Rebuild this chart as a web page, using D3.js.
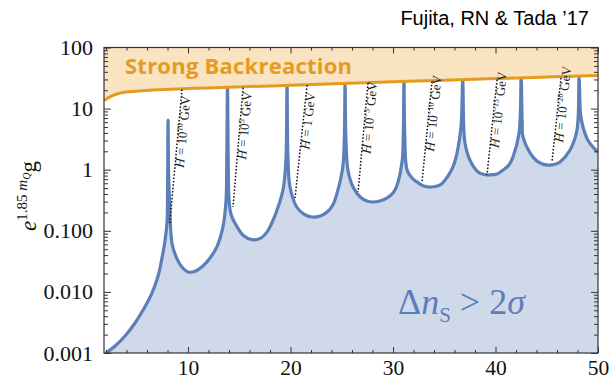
<!DOCTYPE html>
<html>
<head>
<meta charset="utf-8">
<script src="https://cdn.jsdelivr.net/npm/d3@7"></script>
<style>
  body { margin: 0; background: #fff; }
  svg { display: block; }
</style>
</head>
<body>
<div id="chart"></div>
<script>
// curve: m_Q vs e^{1.85 m_Q} g (lower edge of the excluded region)
var curveX = [2.0, 2.88, 3.85, 4.83, 5.8, 6.49, 7.07, 7.46, 7.76, 7.95, 8.0, 8.05,
  8.1, 8.2, 8.45, 8.95, 9.4, 10.0, 10.7, 11.5, 12.2, 12.8, 13.4, 13.7, 13.78, 13.85,
  13.92, 14.0, 14.2, 14.8, 15.4, 16.3, 17.1, 17.7, 18.3, 18.9, 19.3, 19.55, 19.66,
  19.75, 19.95, 20.6, 21.3, 22.1, 22.9, 23.6, 24.15, 24.55, 25.1, 25.25, 25.32,
  25.4, 25.6, 26.1, 26.8, 27.45, 28.05, 28.7, 29.4, 30.0, 30.4, 30.9, 31.0, 31.07,
  31.15, 31.37, 31.85, 32.35, 33.0, 33.8, 34.6, 35.3, 35.85, 36.25, 36.63, 36.8,
  36.9, 37.02, 37.5, 38.3, 38.9, 39.45, 40.15, 40.75, 41.3, 41.7, 42.3, 42.5,
  42.6, 42.68, 43.37, 44.15, 45.1, 45.9, 46.3, 47.27, 47.95, 48.15,
  48.3, 48.54, 49.0, 49.5, 50.0];
var curveY = [0.001, 0.0013, 0.0019, 0.0031, 0.0057, 0.0096, 0.018, 0.036, 0.07, 0.139, 0.4, 6.5,
  0.9, 0.3, 0.06, 0.034, 0.0255, 0.0212, 0.0218, 0.027, 0.037, 0.054, 0.115, 0.3, 1.5, 22,
  1.5, 0.32, 0.185, 0.115, 0.084, 0.071, 0.076, 0.095, 0.15, 0.28, 0.5, 1.44, 24,
  1.5, 0.52, 0.245, 0.188, 0.168, 0.175, 0.205, 0.27, 0.42, 1.11, 3.4, 26,
  3.4, 0.99, 0.52, 0.357, 0.307, 0.296, 0.307, 0.344, 0.416, 0.562, 1.44, 3.5, 28,
  3.5, 0.99, 0.731, 0.629, 0.541, 0.521, 0.562, 0.76, 1.11, 1.88, 5.0, 30,
  5.0, 2.74, 1.44, 0.917, 0.834, 0.82, 0.85, 0.99, 1.19, 1.61, 4.0, 32,
  6.0, 3.43, 1.88, 1.34, 1.19, 1.24, 1.34, 2.1, 4.47, 33,
  8.0, 5.0, 3.06, 2.35, 1.95];

// strong backreaction boundary
var brX = [1.8, 2.2, 2.7, 3.3, 4.2, 5.5, 7, 9, 12, 16, 20, 25, 30, 35, 40, 45, 50];
var brY = [13.5, 15, 16.5, 17.8, 18.8, 19.6, 20.3, 21, 21.8, 23, 24, 25.8, 27.5, 29.2, 31, 32.8, 34.8];

// constant-H lines: top end / bottom end
var hTopX = [9.41, 15.37, 21.61, 27.56, 33.8, 40.15, 46.39];
var hTopY = [20.6, 22, 24.3, 26.2, 27.8, 29.8, 31.8];
var hBotX = [8.22, 14.39, 20.44, 26.59, 32.83, 39.17, 45.51];
var hBotY = [0.135, 0.245, 0.344, 0.431, 0.629, 0.82, 1.34];
var hBase = ["10", "10", "1", "10", "10", "10", "10"];
var hExp = ["10", "5", "", "\u22125", "\u221210", "\u221215", "\u221220"];

var xTicks = [10, 20, 30, 40, 50];
var yTicks = [0.001, 0.01, 0.1, 1, 10, 100];
var yTickLabels = ["0.001", "0.010", "0.100", "1", "10", "100"];

var margin = {top: 47.5, right: 13, bottom: 27, left: 104},
    width = 611 - margin.left - margin.right,
    height = 380 - margin.top - margin.bottom;

var blue = "#5b7fb8", blueFill = "#cfd9ea", orange = "#e59b22", orangeFill = "#f9e3c0";
var serif = "'Liberation Serif', 'DejaVu Serif', serif";

var x = d3.scaleLinear().domain([1.8, 50]).range([0, width]);
var y = d3.scaleLog().domain([0.001, 100]).range([height, 0]);

var svg = d3.select("#chart").append("svg")
    .attr("width", 611)
    .attr("height", 380);

svg.append("text")
    .attr("x", 589).attr("y", 25)
    .attr("text-anchor", "end")
    .style("font-family", "'Liberation Sans', Arial, sans-serif")
    .style("font-size", "20px")
    .text("Fujita, RN & Tada \u201917");

var g = svg.append("g")
    .attr("transform", "translate(" + margin.left + "," + margin.top + ")");

g.append("clipPath").attr("id", "clip")
  .append("rect").attr("width", width).attr("height", height);

var plot = g.append("g").attr("clip-path", "url(#clip)");

var curve = curveX.map(function(d, i) { return [d, curveY[i]]; });
var br = brX.map(function(d, i) { return [d, brY[i]]; });
var smooth = d3.curveCatmullRom.alpha(0.5);

// excluded region below the curve
plot.append("path")
    .datum(curve)
    .attr("fill", blueFill)
    .attr("d", d3.area()
      .x(function(d) { return x(d[0]); })
      .y0(height)
      .y1(function(d) { return y(d[1]); })
      .curve(smooth));

plot.append("path")
    .datum(curve)
    .attr("fill", "none")
    .attr("stroke", blue)
    .attr("stroke-width", 3.2)
    .attr("stroke-linejoin", "round")
    .attr("d", d3.line()
      .x(function(d) { return x(d[0]); })
      .y(function(d) { return y(d[1]); })
      .curve(smooth));

// strong backreaction band
plot.append("path")
    .datum(br)
    .attr("fill", orangeFill)
    .attr("d", d3.area()
      .x(function(d) { return x(d[0]); })
      .y0(0)
      .y1(function(d) { return y(d[1]); })
      .curve(d3.curveMonotoneX));

plot.append("path")
    .datum(br)
    .attr("fill", "none")
    .attr("stroke", orange)
    .attr("stroke-width", 3)
    .attr("d", d3.line()
      .x(function(d) { return x(d[0]); })
      .y(function(d) { return y(d[1]); })
      .curve(d3.curveMonotoneX));

plot.append("text")
    .attr("x", 21).attr("y", 26)
    .attr("fill", orange)
    .attr("textLength", 227)
    .style("font-family", "'Open Sans', Lato, sans-serif")
    .style("font-weight", "bold")
    .style("font-size", "22px")
    .text("Strong Backreaction");

// constant H lines + labels
hTopX.forEach(function(d, i) {
  var x1 = x(d), y1 = y(hTopY[i]), x2 = x(hBotX[i]), y2 = y(hBotY[i]);
  plot.append("line")
      .attr("x1", x1).attr("y1", y1).attr("x2", x2).attr("y2", y2)
      .attr("stroke", "#111")
      .attr("stroke-width", 1.5)
      .attr("stroke-dasharray", "1.6,1.8");

  var ang = Math.atan2(y2 - y1, x2 - x1) * 180 / Math.PI + 180;
  var t = plot.append("text")
      .attr("transform", "translate(" + (x1 + (x2 - x1) * 0.32 + 9) + "," + (y1 + (y2 - y1) * 0.32) + ") rotate(" + ang + ")")
      .attr("text-anchor", "middle")
      .style("font-family", serif)
      .style("font-size", "13px")
      .attr("fill", "#222");
  t.append("tspan").style("font-style", "italic").text("H");
  t.append("tspan").text(" = " + hBase[i]);
  if (hExp[i] != "") {
    t.append("tspan").attr("dy", -5).style("font-size", "8px").text(hExp[i]);
    t.append("tspan").attr("dy", 5).text(" GeV");
  } else {
    t.append("tspan").text(" GeV");
  }
});

// Delta n_s > 2 sigma
var dn = plot.append("text")
    .attr("x", 294)
    .attr("y", 266)
    .attr("fill", blue)
    .style("font-family", serif)
    .style("font-size", "36px");
dn.append("tspan").text("\u0394");
dn.append("tspan").style("font-style", "italic").text("n");
dn.append("tspan").attr("dy", 8).style("font-size", "21px").text("S");
dn.append("tspan").attr("dy", -8).text(" > 2");
dn.append("tspan").style("font-style", "italic").text("\u03c3");

// frame
g.append("rect")
    .attr("width", width).attr("height", height)
    .attr("fill", "none")
    .attr("stroke", "#333")
    .attr("stroke-width", 1.2);

function tickStyle(sel) {
  sel.select(".domain").remove();
  sel.selectAll(".tick line").attr("stroke", "#333").attr("stroke-width", 1);
}

var xMinor = d3.range(2, 51, 2).filter(function(d) { return d % 10 != 0; });

g.append("g")
    .attr("transform", "translate(0," + height + ")")
    .call(d3.axisBottom(x).tickValues(xTicks).tickSize(-6).tickPadding(7))
    .call(tickStyle)
    .selectAll("text")
    .style("font-family", serif).style("font-size", "21.5px").attr("fill", "#111");
g.append("g")
    .attr("transform", "translate(0," + height + ")")
    .call(d3.axisBottom(x).tickValues(xMinor).tickSize(-3).tickFormat(""))
    .call(tickStyle);
g.append("g")
    .call(d3.axisTop(x).tickValues(xTicks).tickSize(-6).tickFormat(""))
    .call(tickStyle);
g.append("g")
    .call(d3.axisTop(x).tickValues(xMinor).tickSize(-3).tickFormat(""))
    .call(tickStyle);

var yMinor = y.ticks().filter(function(d) { return yTicks.indexOf(d) < 0; });

g.append("g")
    .call(d3.axisLeft(y).tickValues(yTicks).tickSize(-7).tickPadding(11)
      .tickFormat(function(d, i) { return yTickLabels[i]; }))
    .call(tickStyle)
    .selectAll("text")
    .style("font-family", serif).style("font-size", "22px").attr("fill", "#111");
g.append("g")
    .call(d3.axisLeft(y).tickValues(yMinor).tickSize(-4).tickFormat(""))
    .call(tickStyle);
g.append("g")
    .attr("transform", "translate(" + width + ",0)")
    .call(d3.axisRight(y).tickValues(yTicks).tickSize(-7).tickFormat(""))
    .call(tickStyle);
g.append("g")
    .attr("transform", "translate(" + width + ",0)")
    .call(d3.axisRight(y).tickValues(yMinor).tickSize(-4).tickFormat(""))
    .call(tickStyle);

// y label: e^{1.85 m_Q} g
var yl = svg.append("text")
    .attr("transform", "translate(36,196) rotate(-90)")
    .attr("text-anchor", "middle")
    .attr("fill", "#111")
    .style("font-family", serif)
    .style("font-size", "23px");
yl.append("tspan").style("font-style", "italic").text("e");
yl.append("tspan").attr("dy", -9).style("font-size", "15px").text("1.85 ");
yl.append("tspan").style("font-size", "15px").style("font-style", "italic").text("m");
yl.append("tspan").attr("dy", 3).style("font-size", "10px").style("font-style", "italic").text("Q");
yl.append("tspan").attr("dy", 6).text("g");
</script>
</body>
</html>
